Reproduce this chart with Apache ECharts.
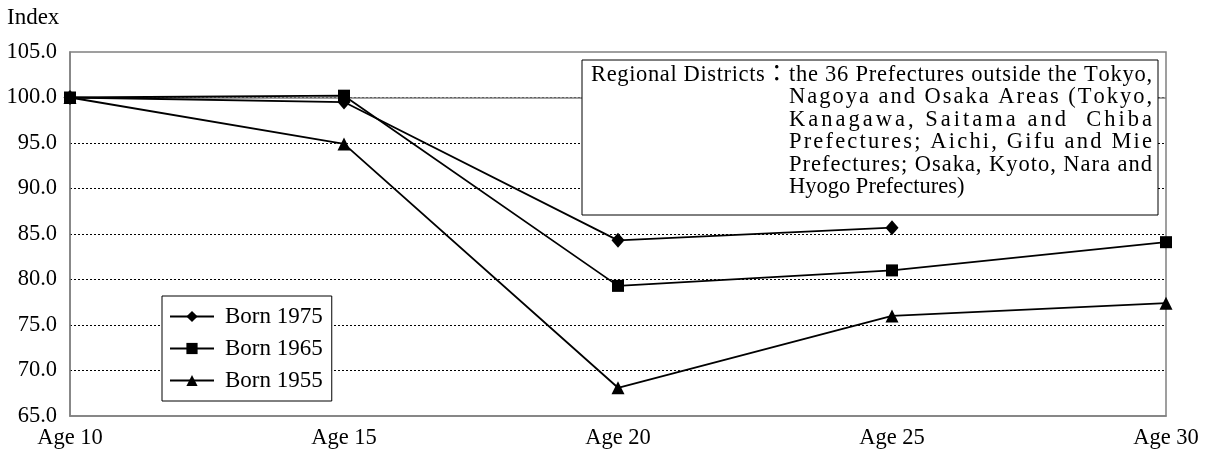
<!DOCTYPE html>
<html>
<head>
<meta charset="utf-8">
<script src="https://cdn.jsdelivr.net/npm/echarts@6/dist/echarts.min.js"></script>
<style>html,body{margin:0;padding:0;background:#fff}#c{width:1209px;height:450px}</style>
</head>
<body>
<div id="c"></div>
<script>
const categories = ['Age 10', 'Age 15', 'Age 20', 'Age 25', 'Age 30'];
const born1975 = [100.0, 99.5, 84.3, 85.7, null];
const born1965 = [100.0, 100.2, 79.3, 81.0, 84.1];
const born1955 = [100.0, 94.9, 68.1, 76.0, 77.4];
const seriesNames = ['Born 1975', 'Born 1965', 'Born 1955'];
const yAxisTitle = 'Index';
const noteLabel = 'Regional Districts\uFF1A';
const noteLines = [
  'the 36 Prefectures outside the Tokyo,',
  'Nagoya and Osaka Areas (Tokyo,',
  'Kanagawa, Saitama and  Chiba',
  'Prefectures; Aichi, Gifu and Mie',
  'Prefectures; Osaka, Kyoto, Nara and',
  'Hyogo Prefectures)'
];

const FONT = 'Liberation Serif';
const FS = 22.5;
const fontStr = FS + 'px "' + FONT + '", "Noto Sans CJK JP"';
const cv = document.createElement('canvas').getContext('2d');
cv.font = fontStr;

// place characters of a string so that it spans exactly [x0, x1] (if justify)
function justified(str, x0, x1, baseline, justify) {
  const chars = Array.from(str);
  const widths = chars.map(c => cv.measureText(c).width);
  const natural = widths.reduce((a, b) => a + b, 0);
  const extra = justify && chars.length > 1 ? (x1 - x0 - natural) / (chars.length - 1) : 0;
  const els = [];
  let x = x0;
  chars.forEach((c, i) => {
    if (c !== ' ') {
      els.push({ type: 'text', x: x, y: baseline - 0.305 * FS, z: 101, silent: true,
        style: { text: c, font: fontStr, fill: '#000', align: 'left', verticalAlign: 'middle' } });
    }
    x += widths[i] + extra;
  });
  return els;
}

const chart = echarts.init(document.getElementById('c'));
const mk = (name, data, symbol, size) => ({
  name, type: 'line', data, symbol, symbolSize: size,
  showAllSymbol: true, connectNulls: false,
  lineStyle: { color: '#000', width: 1.8 },
  itemStyle: { color: '#000' },
  z: 3
});
const s1 = mk(seriesNames[0], born1975, 'diamond', [13, 15]);
const s2 = mk(seriesNames[1], born1965, 'rect', 12);
const s3 = mk(seriesNames[2], born1955, 'triangle', 13);
s3.markLine = {
  silent: true, symbol: 'none', label: { show: false },
  lineStyle: { color: '#808080', type: 'solid', width: 1.5 },
  data: [{ yAxis: 100 }], z: 1
};

let noteEls = justified(noteLabel, 591, 788, 82, true);
noteLines.forEach((t, i) => {
  noteEls = noteEls.concat(justified(t, 789, 1152, 82 + i * 22.4, i < noteLines.length - 1));
});

chart.setOption({
  animation: false,
  backgroundColor: '#fff',
  grid: { left: 70, right: 43, top: 52, bottom: 34, show: true, borderColor: '#808080', borderWidth: 1.5, backgroundColor: 'transparent' },
  xAxis: {
    type: 'category', data: categories, boundaryGap: false,
    axisLine: { lineStyle: { color: '#808080', width: 1.5 } },
    axisTick: { show: false },
    axisLabel: { color: '#000', fontFamily: FONT, fontSize: FS, margin: 11,
      showMinLabel: true, showMaxLabel: true },
    splitLine: { show: false }
  },
  yAxis: {
    type: 'value', min: 65, max: 105, interval: 5,
    axisLine: { show: true, lineStyle: { color: '#808080', width: 1.5 } },
    axisTick: { show: false },
    axisLabel: { color: '#000', fontFamily: FONT, fontSize: FS, margin: 13, formatter: v => v.toFixed(1) },
    splitLine: { show: true, showMinLine: false, showMaxLine: false, lineStyle: { color: '#000', type: [2, 2], width: 1 } }
  },
  legend: {
    orient: 'vertical', left: 162, top: 296,
    data: seriesNames,
    backgroundColor: '#fff', borderColor: '#000', borderWidth: 1,
    padding: [9, 9, 9, 7], itemGap: 9, itemWidth: 44, itemHeight: 14,
    textStyle: { color: '#000', fontFamily: FONT, fontSize: 23, padding: [0, 0, 0, 6] },
    z: 50
  },
  graphic: [
    { type: 'text', x: 7, y: 25 - 0.305 * 23, silent: true,
      style: { text: yAxisTitle, font: '23px "' + FONT + '"', fill: '#000', verticalAlign: 'middle' } },
    { type: 'rect', shape: { x: 582, y: 60, width: 576, height: 155 }, z: 100,
      style: { fill: '#fff', stroke: '#000', lineWidth: 1 } }
  ].concat(noteEls),
  series: [s1, s2, s3]
});
</script>
</body>
</html>
